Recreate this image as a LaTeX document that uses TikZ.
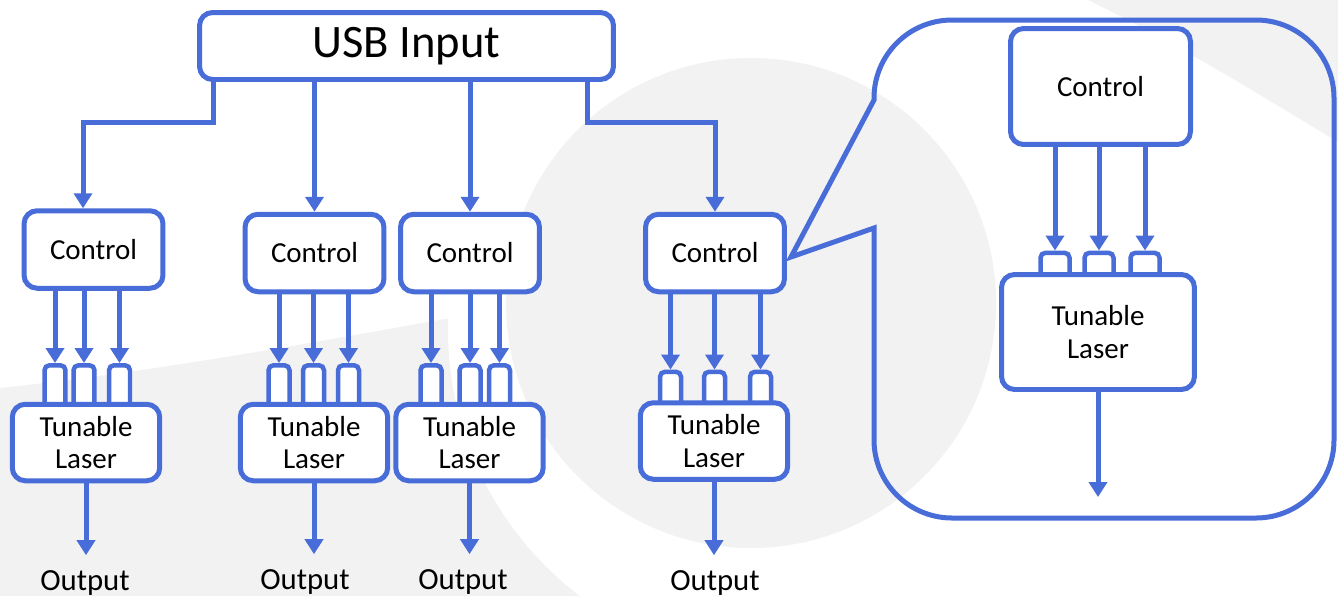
\documentclass[tikz,border=0pt]{standalone}
\usepackage{fontspec}
\setmainfont{Carlito}
\usepackage{tikz}
\usetikzlibrary{arrows.meta}
\definecolor{usbblue}{RGB}{72,108,216}
\definecolor{slide}{RGB}{242,242,242}
\tikzstyle{block}=[rectangle, rounded corners=0.26cm, draw=usbblue, line width=0.1cm, fill=white, align=center, inner sep=0pt, font=\fontsize{16.5}{18.7}\selectfont]
\tikzstyle{ctrl}=[block, minimum width=2.78cm, minimum height=1.55cm]
\tikzstyle{laser}=[block, minimum width=2.95cm, minimum height=1.53cm]
\tikzstyle{port}=[rectangle, rounded corners=0.1cm, draw=usbblue, line width=0.09cm, fill=white, minimum width=0.42cm, inner sep=0pt, anchor=south]
\tikzstyle{link}=[-{Triangle[length=0.3cm, width=0.36cm]}, draw=usbblue, line width=0.1cm]
\tikzstyle{outlabel}=[inner xsep=0pt, inner ysep=0.3cm, font=\fontsize{17.5}{21}\selectfont]
\tikzstyle{frame}=[draw=usbblue, line width=0.1cm, line join=miter]

\begin{document}
\begin{tikzpicture}[x=0.02cm, y=-0.02cm]
		\useasboundingbox (0,0) rectangle (1338,596);
		%The slide background
		\begin{scope}
		\clip (0,0) rectangle (1338,596);
		\fill[slide] (0,388) .. controls (150,372) and (300,345) .. (450,318) -- (700,300) -- (700,596) -- (0,596) -- cycle;
		\fill[white] (782,330) circle (334);
		\fill[slide] (751,303) circle (245);
		\fill[slide] (1088,0) .. controls (1180,45) and (1260,95) .. (1338,142) -- (1338,0) -- cycle;
		\end{scope}
		
		%The zoom callout
		\draw[frame] (874,100) -- (791,257) -- (874,228) -- (874,440)
			.. controls (874,483) and (909,518) .. (952,518) -- (1256,518)
			.. controls (1299,518) and (1334,483) .. (1334,440) -- (1334,98)
			.. controls (1334,55) and (1299,20) .. (1256,20) -- (952,20)
			.. controls (909,20) and (874,55) .. (874,98) -- cycle;
		
		%The USB input
		\draw (406.5,46) node[block, minimum width=8.28cm, minimum height=1.34cm, font=\fontsize{26.5}{30}\selectfont] (usb) {USB Input};
		
		%The control boxes
		\draw (93.5,249.5) node[ctrl] (c1) {Control};
		\draw (314.5,253) node[ctrl] (c2) {Control};
		\draw (470,253) node[ctrl] (c3) {Control};
		\draw (715,253) node[ctrl] (c4) {Control};
		\draw (1100.5,86.5) node[block, minimum width=3.6cm, minimum height=2.32cm] (c5) {Control};
		
		%The laser inputs
		\foreach \i/\x in {1/55,2/84,3/119.5}
			\node[port, minimum height=0.9cm] (p1\i) at (\x,412.5) {};
		\foreach \i/\x in {1/279,2/313.5,3/348.5}
			\node[port, minimum height=0.9cm] (p2\i) at (\x,412.5) {};
		\foreach \i/\x in {1/431,2/470,3/499.5}
			\node[port, minimum height=0.9cm] (p3\i) at (\x,412.5) {};
		\foreach \i/\x in {1/670.5,2/714.5,3/760.5}
			\node[port, minimum height=0.73cm] (p4\i) at (\x,410.5) {};
		\foreach \i/\x in {1/1055,2/1099,3/1145}
			\node[port, minimum height=0.55cm, minimum width=0.58cm] (p5\i) at (\x,282.5) {};
		
		%The lasers
		\draw (86,442.5) node[laser] (l1) {Tunable\\Laser};
		\draw (314,442.5) node[laser] (l2) {Tunable\\Laser};
		\draw (469.5,442.5) node[laser] (l3) {Tunable\\Laser};
		\draw (714,441) node[laser] (l4) {Tunable\\Laser};
		\draw (1098,332) node[block, minimum width=3.86cm, minimum height=2.3cm] (l5) {Tunable\\Laser};
		
		%USB to control
		\coordinate (k1) at (83,122);
		\coordinate (k2) at (213,122);
		\coordinate (k3) at (587,122);
		\coordinate (k4) at (715,122);
		\draw[link] (usb.south -| k2) |- (k1) -- (c1.north -| k1);
		\draw[link] (usb.south -| c2.north) -- (c2.north);
		\draw[link] (usb.south -| c3.north) -- (c3.north);
		\draw[link] (usb.south -| k3) |- (k4) -- (c4.north);
		
		%Control to laser
		\foreach \c in {1,...,5}
			\foreach \i in {1,2,3}
				\draw[link] (c\c.south -| p\c\i.north) -- (p\c\i.north);
		
		%The outputs
		\draw (85,583) node[outlabel] (o1) {Output};
		\draw (305,582) node[outlabel] (o2) {Output};
		\draw (463,582) node[outlabel] (o3) {Output};
		\draw (715,583) node[outlabel] (o4) {Output};
		\coordinate (e5) at (1104,497);
		\foreach \n in {1,...,4}
			\draw[link] (l\n.south) -- (l\n.south |- o\n.north);
		\draw[link] (l5.south) -- (l5.south |- e5);
\end{tikzpicture}
\end{document}
